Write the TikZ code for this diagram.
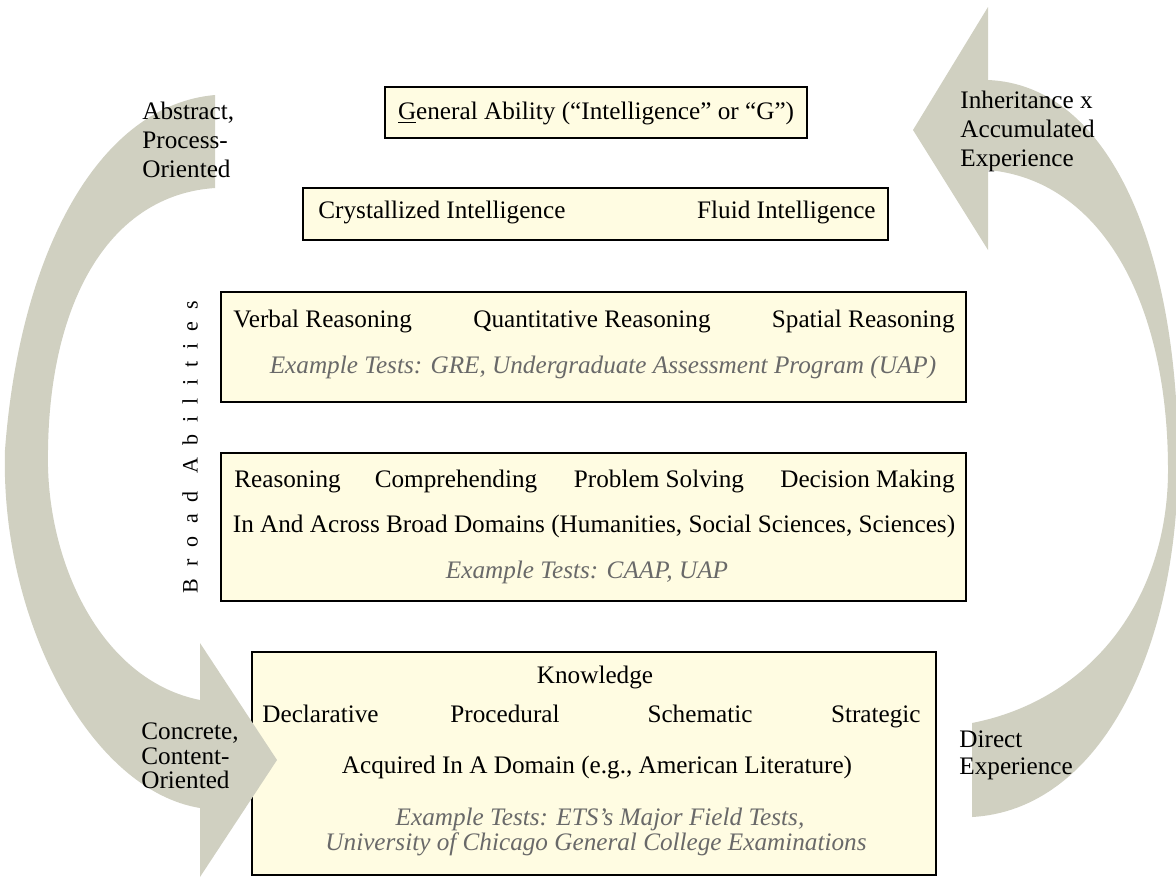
\documentclass[tikz,border=0pt]{standalone}
\usepackage{fontspec}
\setmainfont{Liberation Serif}
\newfontfamily\spacedfont[LetterSpace=55]{Liberation Serif}
\definecolor{boxfill}{RGB}{255,252,226}
\definecolor{arrowgray}{RGB}{208,208,193}
\definecolor{testgray}{RGB}{105,105,105}
\tikzset{
  levelbox/.style={draw=black, line width=1.3pt, fill=boxfill},
  txt/.style={inner sep=0pt, font=\fontsize{12.6}{15}\selectfont},
  item/.style={txt, text height=0.7em, text depth=0.22em},
  exam/.style={item, text=testgray, font=\fontsize{12.6}{15}\selectfont\itshape},
  side/.style={txt, align=left, anchor=west},
  bigarrow/.style={fill=arrowgray, draw=none},
}
\begin{document}
\begin{tikzpicture}[x=0.5pt, y=-0.5pt]
    \useasboundingbox (0,0) rectangle (1176,878);
    % levels
    \draw[levelbox] (385,87) rectangle (807,138);
    \draw[levelbox] (303,188) rectangle (888,240);
    \draw[levelbox] (221,292) rectangle (966,402);
    \draw[levelbox] (221,453) rectangle (966,601);
    \draw[levelbox] (252,652) rectangle (936,875);
    % left arrow: abstract down to concrete
    \fill[bigarrow] (215,95) .. controls (100,105) and (20,250) .. (5,450)
      .. controls (0,620) and (90,790) .. (200,808) -- (200,877) -- (277,760) -- (200,643) -- (200,700)
      .. controls (100,680) and (45,560) .. (48,450)
      .. controls (50,300) and (110,195) .. (215,188) -- cycle;
    % right arrow: direct experience up to inheritance
    \fill[bigarrow] (988,80) .. controls (1110,85) and (1178,250) .. (1178,460)
      .. controls (1178,650) and (1100,810) .. (972,817) -- (972,723)
      .. controls (1090,700) and (1168,600) .. (1168,470)
      .. controls (1168,300) and (1100,180) .. (988,170) -- (988,250) -- (913,130) -- (988,7) -- cycle;
    % texts in the levels
    \node[item] (general) at (596,115) {\underline{G}eneral Ability (“Intelligence” or “G”)};
    \node[item, anchor=west] (crystal) at (318,214) {Crystallized Intelligence};
    \node[item, anchor=east] (fluid) at (876,214) {Fluid Intelligence};
    \node[item, anchor=west] (verbal) at (233,323) {Verbal Reasoning};
    \node[item] (quant) at (592,323) {Quantitative Reasoning};
    \node[item, anchor=east] (spatial) at (955,323) {Spatial Reasoning};
    \node[exam] (gre) at (603,369) {Example Tests: GRE, Undergraduate Assessment Program (UAP)};
    \node[item, anchor=west] (reason) at (234,483) {Reasoning};
    \node[item] (compre) at (456,483) {Comprehending};
    \node[item] (problem) at (659,483) {Problem Solving};
    \node[item, anchor=east] (decision) at (955,483) {Decision Making};
    \node[item] (domains) at (594,528) {In And Across Broad Domains (Humanities, Social Sciences, Sciences)};
    \node[exam] (caap) at (587,574) {Example Tests: CAAP, UAP};
    \node[item] (knowledge) at (595,679) {Knowledge};
    \node[item, anchor=west] (declar) at (262,718) {Declarative};
    \node[item] (proced) at (505,718) {Procedural};
    \node[item] (schema) at (700,718) {Schematic};
    \node[item, anchor=east] (strat) at (921,718) {Strategic};
    \node[item] (acquired) at (597,769) {Acquired In A Domain (e.g., American Literature)};
    \node[exam] (ets) at (600,821) {Example Tests: ETS's Major Field Tests,};
    \node[exam] (chicago) at (596,846) {University of Chicago General College Examinations};
    % side labels
    \node[txt, rotate=90, font=\spacedfont\fontsize{11}{13}\selectfont] (broad) at (190,447) {Broad Abilities};
    \node[side, font=\fontsize{12.6}{14.5}\selectfont] (abstract) at (142,140) {Abstract,\\Process-\\Oriented};
    \node[side, font=\fontsize{12.6}{14.5}\selectfont] (inherit) at (960,131) {Inheritance x\\Accumulated\\Experience};
    \node[side, font=\fontsize{12.6}{12.2}\selectfont] (concrete) at (141,756) {Concrete,\\Content-\\Oriented};
    \node[side, font=\fontsize{12.6}{13.5}\selectfont] (direct) at (959,755) {Direct\\Experience};
\end{tikzpicture}
\end{document}
